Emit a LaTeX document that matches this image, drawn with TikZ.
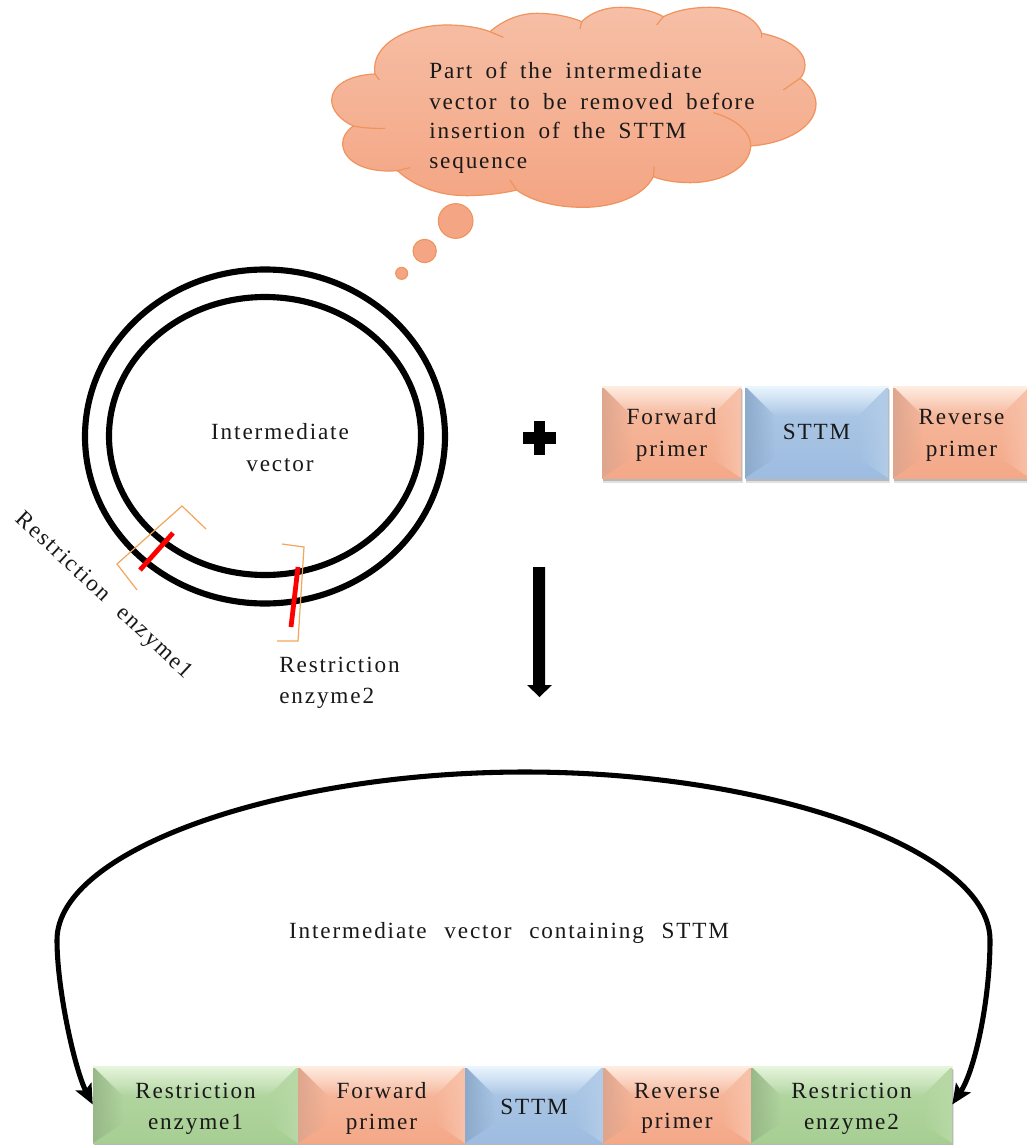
\documentclass[tikz,border=0pt]{standalone}
\usepackage{fontspec}
\setmainfont[LetterSpace=8,WordSpace=1.75]{Liberation Serif}
\newfontfamily\capfont[LetterSpace=8,WordSpace=2.3]{Liberation Serif}
\usetikzlibrary{arrows.meta,calc,fadings}
\definecolor{orL}{HTML}{FFEDE2}\definecolor{orM}{HTML}{F6BCA2}\definecolor{orB}{HTML}{F4A888}\definecolor{orD}{HTML}{DEA68E}\definecolor{orR}{HTML}{F8C2AA}
\definecolor{blL}{HTML}{EAF5FE}\definecolor{blM}{HTML}{AFC9E6}\definecolor{blB}{HTML}{9DBCE0}\definecolor{blD}{HTML}{8DAACB}\definecolor{blR}{HTML}{B2CCE8}
\definecolor{grL}{HTML}{E6F5DC}\definecolor{grM}{HTML}{B7D8A6}\definecolor{grB}{HTML}{A6CE92}\definecolor{grD}{HTML}{98B888}\definecolor{grR}{HTML}{B8D9A6}
\definecolor{cloudline}{HTML}{F0935C}\definecolor{cloudtop}{HTML}{F6BFA6}\definecolor{cloudbot}{HTML}{F4A583}
\tikzset{
 lbl/.style={font=\fontsize{17.4}{23}\selectfont,text=black!90,inner sep=0pt,align=center},
 ring/.style={draw=black,line width=4.6pt},
 cut/.style={draw=red,line width=3.6pt},
 brack/.style={draw=orange!70!brown!70!white,line width=0.9pt,line join=miter},
 cloudedge/.style={draw=cloudline,line width=0.9pt},
 bubble/.style={circle,draw=cloudline,fill=cloudbot,line width=0.8pt,inner sep=0pt},
}
% name, x0, y0, x1, y1, colour set
\newcommand{\bevelbox}[6]{%
 \fill[black!12] (#2+1,#3+4) rectangle (#4+2,#5+5);
 \fill[black!28] (#2+1,#3+3) rectangle (#4+1,#5+3);
 \shade[top color=#6M,bottom color=#6B] (#2,#3) rectangle (#4,#5);
 \fill[#6R,path fading=west] (#4,#3) -- (#4-30,#3+30) -- (#4-30,#5-20) -- (#4,#5) -- cycle;
 \fill[#6D,path fading=east] (#2,#3) -- (#2+30,#3+30) -- (#2+30,#5-20) -- (#2,#5) -- cycle;
 \fill[#6L,path fading=south] (#2,#3) -- (#4,#3) -- (#4-30,#3+30) -- (#2+30,#3+30) -- cycle;
 \fill[#6L] (#2,#3) rectangle (#4,#3+1.5);
 \node[lbl,minimum width={(#4-#2)*0.75pt},minimum height={(#5-#3)*0.75pt}] (#1) at ({(#2+#4)/2},{(#3+#5)/2}) {};
}
\begin{document}
\begin{tikzpicture}[x=0.75pt,y=-0.75pt]
\useasboundingbox (0,0) rectangle (1027,1145);
\clip (0,0) rectangle (1027,1145);
\fill[white] (0,0) rectangle (1027,1145);

% thought cloud, in the coordinates of a 3x crop
\begin{scope}[x=0.25pt,y=-0.25pt,shift={(960,0)}]
\shade[top color=cloudtop,bottom color=cloudbot,cloudedge]
 (165,222) .. controls (150,130) and (270,75) .. (380,75) .. controls (430,75) and (480,83) .. (510,95)
 .. controls (550,60) and (600,40) .. (650,40) .. controls (700,40) and (750,50) .. (785,65)
 .. controls (815,35) and (860,22) .. (900,22) .. controls (950,22) and (1000,32) .. (1030,50)
 .. controls (1070,30) and (1120,22) .. (1170,22) .. controls (1250,22) and (1310,55) .. (1325,100)
 .. controls (1400,115) and (1455,150) .. (1455,195) .. controls (1455,210) and (1450,225) .. (1440,235)
 .. controls (1470,255) and (1488,285) .. (1488,312) .. controls (1488,380) and (1400,430) .. (1292,438)
 .. controls (1290,500) and (1210,548) .. (1110,548) .. controls (1070,548) and (1030,542) .. (1000,530)
 .. controls (970,590) and (880,622) .. (790,622) .. controls (700,622) and (630,600) .. (590,570)
 .. controls (550,580) and (490,587) .. (440,587) .. controls (350,587) and (280,555) .. (232,512)
 .. controls (130,520) and (68,480) .. (68,430) .. controls (68,410) and (80,392) .. (100,378)
 .. controls (60,360) and (35,330) .. (35,300) .. controls (35,255) and (90,225) .. (165,222) -- cycle;
\draw[cloudedge] (165,222) -- (178,240);
\draw[cloudedge] (510,95) -- (550,112);
\draw[cloudedge] (785,65) -- (780,87);
\draw[cloudedge] (1030,50) -- (1010,75);
\draw[cloudedge] (1325,100) -- (1325,115);
\draw[cloudedge] (1440,235) -- (1390,270);
\draw[cloudedge] (1180,338) .. controls (1240,355) and (1292,390) .. (1292,438);
\draw[cloudedge] (1003,500) -- (1000,530);
\draw[cloudedge] (570,540) -- (590,570);
\draw[cloudedge] (232,512) -- (270,503);
\draw[cloudedge] (100,378) .. controls (130,384) and (165,386) .. (195,385);
\node[bubble,minimum size=26pt] (b1) at (407,663) {};
\node[bubble,minimum size=17.5pt] (b2) at (314,753) {};
\node[bubble,minimum size=9pt] (b3) at (245,820) {};
\end{scope}
\node[lbl,align=left,anchor=north west] (cloudtext) at (429,61.5) {Part of the intermediate\\[0.5pt]vector to be removed before\\[-1pt]insertion of the STTM\\[-1pt]sequence};

% plasmid
\draw[ring] (265,436.5) ellipse [x radius=180,y radius=167];
\draw[ring] (265,436) ellipse [x radius=156,y radius=139];
\draw[cut] (140,570) -- (173,533);
\draw[cut] (291,627) -- (298,567);
\draw[brack] (137,590) -- (117,564) -- (182,506) -- (206,529);
\draw[brack] (282,544) -- (304,547) -- (298,641) -- (277,641);
\node[lbl] (vec) at (280,447.5) {Intermediate\\[0.5pt]vector};
\node[lbl,rotate=-43] (re1label) at (103.5,596) {\capfont Restriction enzyme1};
\node[lbl,align=left,anchor=north west] (re2label) at (279,657) {Restriction\\[0.5pt]enzyme2};

% plus and down arrow
\fill[black] (534,421) rectangle (545,455);
\fill[black] (523,432) rectangle (556,444);
\fill[black] (533,567) -- (545,567) -- (545,685) -- (552,685) -- (539.5,697) -- (527,685) -- (533,685) -- cycle;

% top row
\bevelbox{tf}{602}{386}{741}{478}{or}
\bevelbox{ts}{745}{386}{888}{478}{bl}
\bevelbox{tr}{893}{386}{1030}{478}{or}
\node[lbl] (tftext) at ([yshift=-2.5pt]tf.center) {Forward\\[1pt]primer};
\node[lbl] (tstext) at (ts.center) {STTM};
\node[lbl] (trtext) at ([yshift=-2.5pt]tr.center) {Reverse\\[1pt]primer};

% bottom row
\bevelbox{bre1}{93}{1066}{298}{1143}{gr}
\bevelbox{bf}{298}{1066}{465}{1143}{or}
\bevelbox{bs}{465}{1066}{603}{1143}{bl}
\bevelbox{br}{603}{1066}{751}{1143}{or}
\bevelbox{bre2}{751}{1066}{952}{1143}{gr}
\node[lbl] (t1) at ([yshift=-3pt]bre1.center) {Restriction\\enzyme1};
\node[lbl] (t2) at ([yshift=-3pt]bf.center) {Forward\\primer};
\node[lbl] (t3) at ([yshift=-2pt]bs.center) {STTM};
\node[lbl] (t4) at ([yshift=-3pt]br.center) {Reverse\\primer};
\node[lbl] (t5) at ([yshift=-3pt]bre2.center) {Restriction\\enzyme2};

\draw[black,line width=3.8pt,{Stealth[length=15pt,width=13pt,inset=3pt]}-{Stealth[length=15pt,width=13pt,inset=3pt]}]
 (bre1.west) .. controls (75,1070) and (57,990) .. (57,940) .. controls (57,850) and (280,772) .. (525,772)
 .. controls (770,772) and (990,850) .. (990,940) .. controls (990,1000) and (975,1070) .. (bre2.east);
\node[lbl] (cap) at (509,933) {\capfont Intermediate vector containing STTM};
\end{tikzpicture}
\end{document}
